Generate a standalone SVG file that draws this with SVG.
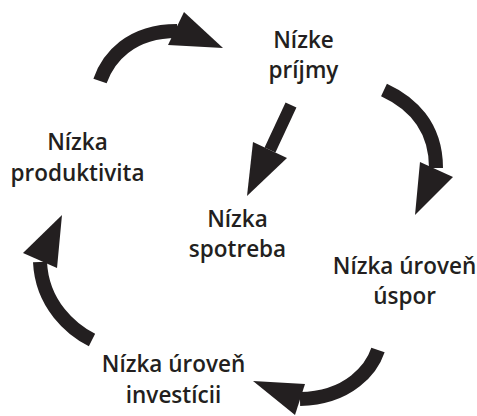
<svg xmlns="http://www.w3.org/2000/svg" width="477" height="416" viewBox="0 0 477 416">
  <style>
    .bg { fill: #ffffff; }
    .shaft { fill: none; stroke: #231f20; stroke-width: 14; stroke-linecap: butt; }
    .shaft-thin { fill: none; stroke: #231f20; stroke-width: 12; stroke-linecap: butt; }
    .head { fill: #231f20; stroke: none; }
    .label { font-family: "Open Sans", "Liberation Sans", sans-serif; font-weight: 600; font-size: 22.5px; fill: #231f20; text-anchor: middle; }
  </style>
  <rect class="bg" x="0" y="0" width="477" height="416"/>
  <g id="connectors">
    <g id="arrow-produktivita-prijmy">
      <path class="shaft" d="M100,81 C108,58 130,31 177,31"/>
      <polygon class="head" points="184,12 223,48 168,45"/>
    </g>
    <g id="arrow-prijmy-uspor">
      <path class="shaft" d="M384,90 C410,102 436,125 436,168"/>
      <polygon class="head" points="420,162 453,177 415,215"/>
    </g>
    <g id="arrow-uspor-investicii">
      <path class="shaft" d="M378,350 C372,368 350,398 300,399"/>
      <polygon class="head" points="305,384 295,415 253,381"/>
    </g>
    <g id="arrow-investicii-produktivita">
      <path class="shaft" d="M92,340 C72,330 42,305 40,262"/>
      <polygon class="head" points="23,253 57,268 62,215"/>
    </g>
    <g id="arrow-prijmy-spotreba">
      <path class="shaft-thin" d="M291,105 L270,150"/>
      <polygon class="head" points="253,142 287,158 247,196"/>
    </g>
  </g>
  <g id="node-nizke-prijmy">
    <text class="label" x="303.5" y="47.5">Nízke</text>
    <text class="label" x="303.5" y="77.5">príjmy</text>
  </g>
  <g id="node-nizka-spotreba">
    <text class="label" x="237.5" y="227">Nízka</text>
    <text class="label" x="237.5" y="257">spotreba</text>
  </g>
  <g id="node-nizka-produktivita">
    <text class="label" x="77.5" y="150">Nízka</text>
    <text class="label" x="77.5" y="180.5">produktivita</text>
  </g>
  <g id="node-nizka-uroven-uspor">
    <text class="label" x="404.5" y="274">Nízka úroveň</text>
    <text class="label" x="404.5" y="304">úspor</text>
  </g>
  <g id="node-nizka-uroven-investicii">
    <text class="label" x="173.5" y="372">Nízka úroveň</text>
    <text class="label" x="173.5" y="402.5">investícii</text>
  </g>
</svg>
